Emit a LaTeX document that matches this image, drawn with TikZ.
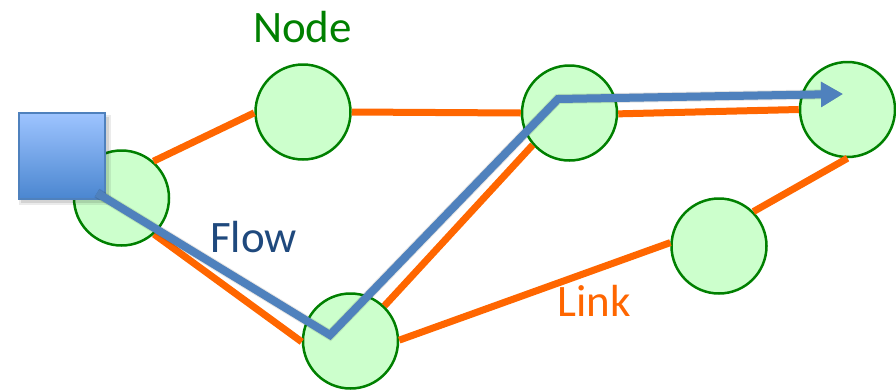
\documentclass[tikz,border=0pt]{standalone}
\usepackage{fontspec}
\setmainfont{Carlito}
\usetikzlibrary{arrows.meta,shadings}
\definecolor{nodegreen}{RGB}{0,128,0}
\definecolor{nodefill}{RGB}{204,255,204}
\definecolor{linkorange}{RGB}{255,102,0}
\definecolor{flowblue}{RGB}{79,129,189}
\definecolor{flowtext}{RGB}{31,73,125}
\definecolor{sqtop}{RGB}{158,196,255}
\definecolor{sqbot}{RGB}{74,134,208}
\tikzset{
  netnode/.style={circle, draw=nodegreen, fill=nodefill, line width=2.5pt, minimum size=95pt, inner sep=0pt},
  link/.style={draw=linkorange, line width=7pt},
  flow/.style={draw=flowblue, line width=8pt, -{Triangle[length=22pt,width=24pt]}},
  flowshadow/.style={draw=black, line width=8pt, -{Triangle[length=22pt,width=24pt]}},
  lbl/.style={anchor=base west, inner sep=0pt, font=\fontsize{45}{54}\selectfont}
}
\begin{document}
\begin{tikzpicture}[x=1pt,y=-1pt]
\useasboundingbox (0,0) rectangle (896,389);
% nodes
\node[netnode] (A) at (121.5,198) {};
\node[netnode] (B) at (303,112) {};
\node[netnode] (C) at (569.5,113) {};
\node[netnode] (D) at (847.5,109.5) {};
\node[netnode] (E) at (719,246) {};
\node[netnode] (F) at (350.5,341) {};
% links
\draw[link] (A.49) -- (B.181);
\draw[link] (B.0) -- (C.180);
\draw[link] (C.-1) -- (D.180);
\draw[link] (A.-48) -- (F.181);
\draw[link] (F.46) -- (C.221);
\draw[link] (F.1) -- (E.176);
\draw[link] (E.45) -- (D.-90);
% source square with shadow
\fill[black, opacity=0.10] (21,117) rectangle (109,203);
\fill[black, opacity=0.08] (19,115) rectangle (111,205);
\node[rectangle, draw=flowblue, line width=2pt, top color=sqtop, bottom color=sqbot,
      minimum width=86pt, minimum height=86pt, inner sep=0pt] (S) at (61.5,156) {};
% flow path
\coordinate (fs) at (97,193);
\coordinate (fa) at (330,335);
\coordinate (fb) at (558,99);
\coordinate (fe) at (843,94);
\begin{scope}[shift={(2,4)}, opacity=0.10]
  \draw[flowshadow, line width=10pt] (fs) -- (fa) -- (fb) -- (fe);
\end{scope}
\begin{scope}[shift={(1,2)}, opacity=0.12]
  \draw[flowshadow] (fs) -- (fa) -- (fb) -- (fe);
\end{scope}
\draw[flow] (fs) -- (fa) -- (fb) -- (fe);
% labels
\node[lbl, text=nodegreen] (tnode) at (253,42) {Node};
\node[lbl, text=flowtext] (tflow) at (210,252) {Flow};
\node[lbl, text=linkorange] (tlink) at (557,316) {Link};
\end{tikzpicture}
\end{document}
